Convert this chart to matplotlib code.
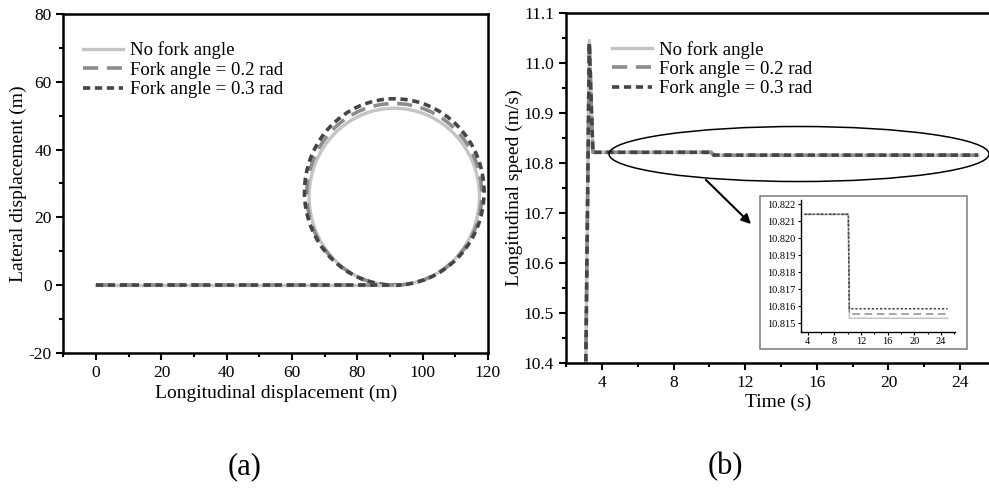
import matplotlib
matplotlib.use("Agg")
import matplotlib.pyplot as plt
from matplotlib.patches import Arc, Ellipse, Rectangle
from matplotlib.ticker import MultipleLocator, FormatStrFormatter

plt.rcParams['font.family'] = ['Liberation Serif', 'DejaVu Serif']
plt.rcParams['axes.unicode_minus'] = False

# ---- data (a): straight run then one loop ----
labels = ['No fork angle', 'Fork angle = 0.2 rad', 'Fork angle = 0.3 rad']
line_x = [0.0, 91.3]
line_y = [0.0, 0.0]
loop_cx = [91.3, 91.3, 91.3]
loop_cy = [26.1, 26.8, 27.5]
loop_r = [26.1, 26.8, 27.5]

# ---- data (b): longitudinal speed ----
time_s = [3.1, 3.3, 3.5, 10.1, 10.25, 25.0]
speed_none = [10.38, 11.045, 10.8214, 10.8214, 10.81528, 10.81528]
speed_02 = [10.38, 11.042, 10.8214, 10.8214, 10.81553, 10.81553]
speed_03 = [10.38, 11.04, 10.8214, 10.8214, 10.81584, 10.81584]

colors = ['#c4c4c4', '#8c8c8c', '#454545']
styles = ['-', (0, (4.2, 2.4)), (0, (2.0, 1.3))]
widths = [2.4, 2.6, 2.6]

fig = plt.figure(figsize=(9.89, 4.93), dpi=100)

def style_axes(ax):
    for s in ax.spines.values():
        s.set_linewidth(1.8)
    ax.tick_params(which='major', direction='out', length=5, width=1.5, labelsize=12.5)
    ax.tick_params(which='minor', direction='out', length=3, width=1.5)

def add_legend(ax, x0):
    ax.legend(loc='upper left', bbox_to_anchor=(x0, 0.985), frameon=False, fontsize=13.5,
              handlelength=2.15, handletextpad=0.37, labelspacing=0.12, borderaxespad=0.8)

# (a)
ax1 = fig.add_axes([0.0642, 0.284, 0.4292, 0.6876])
for i in range(3):
    ax1.plot(line_x, line_y, color=colors[i], ls=styles[i], lw=widths[i], label=labels[i])
    ax1.add_patch(Arc((loop_cx[i], loop_cy[i]), 2 * loop_r[i], 2 * loop_r[i],
                      theta1=-90, theta2=270, color=colors[i], ls=styles[i], lw=widths[i]))
ax1.set_xlim(-10, 120)
ax1.set_ylim(-20, 80)
ax1.xaxis.set_major_locator(MultipleLocator(20))
ax1.xaxis.set_minor_locator(MultipleLocator(10))
ax1.yaxis.set_major_locator(MultipleLocator(20))
ax1.yaxis.set_minor_locator(MultipleLocator(10))
style_axes(ax1)
ax1.set_xlabel('Longitudinal displacement (m)', fontsize=14, labelpad=3)
ax1.set_ylabel('Lateral displacement (m)', fontsize=14)
ax1.yaxis.set_label_coords(-0.086, 0.5)
add_legend(ax1, -0.007)

# (b)
ax2 = fig.add_axes([0.5723, 0.2637, 0.4297, 0.7099])
speeds = [speed_none, speed_02, speed_03]
for i in range(3):
    ax2.plot(time_s, speeds[i], color=colors[i], ls=styles[i], lw=widths[i], label=labels[i])
ax2.set_xlim(2, 25.72)
ax2.set_ylim(10.4, 11.1)
ax2.xaxis.set_major_locator(MultipleLocator(4))
ax2.xaxis.set_minor_locator(MultipleLocator(2))
ax2.yaxis.set_major_locator(MultipleLocator(0.1))
ax2.yaxis.set_minor_locator(MultipleLocator(0.05))
ax2.yaxis.set_major_formatter(FormatStrFormatter('%.1f'))
style_axes(ax2)
ax2.set_xlabel('Time (s)', fontsize=14, labelpad=2)
ax2.set_ylabel('Longitudinal speed (m/s)', fontsize=14)
ax2.yaxis.set_label_coords(-0.101, 0.5)
add_legend(ax2, 0.055)

# zoom ellipse, inset frame and arrow
fig.patches.append(Ellipse((0.8079, 0.6876), 0.3842, 0.1116, transform=fig.transFigure,
                           fill=False, ec='black', lw=1.1))
fig.patches.append(Rectangle((0.7685, 0.2915), 0.209, 0.3116, transform=fig.transFigure,
                             fill=False, ec='#7a7a7a', lw=1.1))
ax2.annotate('', xy=(0.7614, 0.5416), xycoords='figure fraction',
             xytext=(0.7118, 0.639), textcoords='figure fraction',
             arrowprops=dict(arrowstyle='-|>', color='black', lw=1.5, mutation_scale=14))

# inset
axi = fig.add_axes([0.8096, 0.3272, 0.156, 0.267])
inset_styles = ['-', (0, (5, 3)), (0, (1.5, 1.2))]
for i in range(3):
    axi.plot(time_s[2:], speeds[i][2:], color=colors[i], ls=inset_styles[i], lw=1.1)
axi.set_xlim(2.95, 26.1)
axi.set_ylim(10.81449, 10.82224)
axi.xaxis.set_major_locator(MultipleLocator(4))
axi.xaxis.set_minor_locator(MultipleLocator(2))
axi.yaxis.set_major_locator(MultipleLocator(0.001))
axi.yaxis.set_major_formatter(FormatStrFormatter('%.3f'))
for s in ['top', 'right']:
    axi.spines[s].set_visible(False)
for s in ['left', 'bottom']:
    axi.spines[s].set_linewidth(1.0)
axi.tick_params(which='major', direction='out', length=2.5, width=0.8, labelsize=7.5, pad=1)
axi.tick_params(which='minor', direction='out', length=1.5, width=0.8)

fig.text(0.2477, 0.0527, '(a)', fontsize=22, ha='center', va='center')
fig.text(0.733, 0.0527, '(b)', fontsize=22, ha='center', va='center')

fig.savefig('out.png', dpi=100)
